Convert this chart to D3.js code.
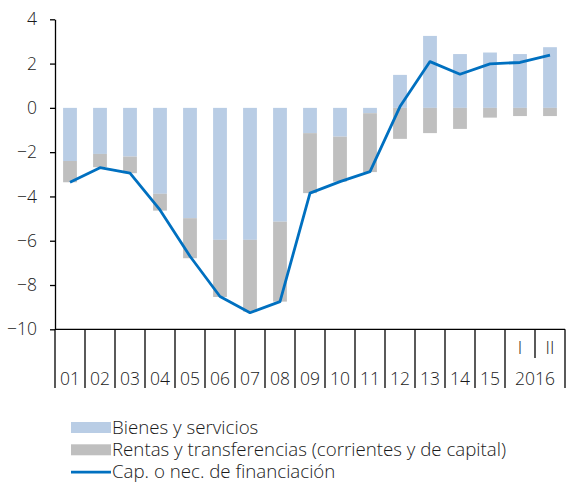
<!DOCTYPE html>
<meta charset="utf-8">
<html>
  <head>
    <script src="https://d3js.org/d3.v7.min.js"></script>
    <style>
      body{margin:0;background:#fff;}
      text{font-family:"Open Sans",Lato,sans-serif;font-weight:300;fill:#1a1a1a;}
    </style>
  </head>
  <body>
    <div id="chart"></div>
  <script>
    var width=567,
        height=483;
    // data
    var categories=["01","02","03","04","05","06","07","08","09","10","11","12","13","14","15","I","II"];
    var bienes=[-2.4,-2.08,-2.2,-3.88,-4.98,-5.96,-5.96,-5.14,-1.14,-1.3,-0.24,1.49,3.25,2.43,2.5,2.43,2.74];
    var rentas=[-0.96,-0.6,-0.75,-0.76,-1.81,-2.58,-3.24,-3.61,-2.71,-2.03,-2.66,-1.4,-1.14,-0.95,-0.44,-0.37,-0.37];
    var capacidad=[-3.36,-2.7,-2.95,-4.61,-6.7,-8.52,-9.25,-8.75,-3.85,-3.33,-2.88,0.06,2.09,1.52,1.99,2.05,2.38];
    var yTicks=[4,2,0,-2,-4,-6,-8,-10];
    var groupLabels=[{label:"2016",from:"I",to:"II"}];
    var legendItems=[
      {name:"Bienes y servicios",type:"rect",color:"#b9cde5"},
      {name:"Rentas y transferencias (corrientes y de capital)",type:"rect",color:"#bfbfbf"},
      {name:"Cap. o nec. de financiación",type:"line",color:"#0070c0"}
    ];
    var colors={bienes:"#b9cde5",rentas:"#bfbfbf",line:"#0070c0"};

    var svg=d3.select("#chart").append("svg")
        .attr("width",width)
        .attr("height",height);

    var x=d3.scaleBand().domain(categories).range([55,565]).paddingInner(0.54).paddingOuter(0.27);
    var y=d3.scaleLinear().domain([-10,4]).range([329.3,19.3]);

    // stacked bars (diverging)
    var rows=categories.map(function(c,i){return {cat:c,bienes:bienes[i],rentas:rentas[i]}});
    var series=d3.stack().keys(["bienes","rentas"]).offset(d3.stackOffsetDiverging)(rows);

    var barsG=svg.append("g");
    barsG.selectAll("g").data(series).enter().append("g")
      .attr("fill",function(d){return colors[d.key]})
      .selectAll("rect").data(function(d){return d}).enter().append("rect")
      .attr("x",function(d){return x(d.data.cat)})
      .attr("width",x.bandwidth())
      .attr("y",function(d){return y(Math.max(d[0],d[1]))})
      .attr("height",function(d){return Math.abs(y(d[0])-y(d[1]))});

    // line
    var line=d3.line()
      .x(function(d,i){return x(categories[i])+x.bandwidth()/2})
      .y(function(d){return y(d)});
    svg.append("path").datum(capacidad)
      .attr("d",line)
      .attr("fill","none")
      .attr("stroke",colors.line)
      .attr("stroke-width",2.8)
      .attr("stroke-linejoin","round");

    // y axis
    var yAxis=svg.append("g").attr("transform","translate(55,0)")
      .call(d3.axisLeft(y).tickValues(yTicks).tickSize(5).tickSizeOuter(0).tickPadding(13));
    yAxis.select(".domain").attr("stroke","#000").attr("stroke-width",1.3);
    yAxis.selectAll(".tick line").attr("stroke","#000").attr("stroke-width",1.3);
    yAxis.selectAll(".tick text").attr("font-size","17.5px").attr("font-family",null).attr("fill",null);

    // x axis (custom with group labels)
    var step=x.step();
    var x0=55, yBase=y(-10);
    var xAxis=svg.append("g");
    xAxis.append("line").attr("x1",x0).attr("x2",565).attr("y1",yBase).attr("y2",yBase)
      .attr("stroke","#000").attr("stroke-width",1.3);
    var inGroup=function(c){return groupLabels.some(function(g){return categories.indexOf(c)>categories.indexOf(g.from)&&categories.indexOf(c)<=categories.indexOf(g.to)})};
    var bounds=categories.map(function(c){return {c:c,x:x(c)-x.paddingInner()*step/2,short:inGroup(c)}});
    bounds.push({c:null,x:565,short:false});
    xAxis.selectAll("line.tk").data(bounds).enter().append("line").attr("class","tk")
      .attr("x1",function(d){return d.x}).attr("x2",function(d){return d.x})
      .attr("y1",yBase).attr("y2",function(d){return d.short?358:388})
      .attr("stroke","#000").attr("stroke-width",1.3);
    var grouped=function(c){return groupLabels.some(function(g){return categories.indexOf(c)>=categories.indexOf(g.from)&&categories.indexOf(c)<=categories.indexOf(g.to)})};
    xAxis.selectAll("text.cat").data(categories).enter().append("text").attr("class","cat")
      .attr("x",function(d){return x(d)+x.bandwidth()/2})
      .attr("y",function(d){return grouped(d)?354:385})
      .attr("text-anchor","middle")
      .attr("font-size","17.5px")
      .text(function(d){return d});
    xAxis.selectAll("text.grp").data(groupLabels).enter().append("text").attr("class","grp")
      .attr("x",function(d){return (x(d.from)+x(d.to)+x.bandwidth())/2})
      .attr("y",385)
      .attr("text-anchor","middle")
      .attr("font-size","17.5px")
      .text(function(d){return d.label});

    // legend
    var legend=svg.append("g").attr("transform","translate(71,0)");
    var item=legend.selectAll("g").data(legendItems).enter().append("g")
      .attr("transform",function(d,i){return "translate(0,"+(427.5+i*22.3)+")"});
    item.filter(function(d){return d.type=="rect"}).append("rect")
      .attr("x",0).attr("y",-5.5).attr("width",40).attr("height",11)
      .attr("fill",function(d){return d.color});
    item.filter(function(d){return d.type=="line"}).append("line")
      .attr("x1",0).attr("x2",40).attr("y1",0).attr("y2",0)
      .attr("stroke",function(d){return d.color}).attr("stroke-width",2.6);
    item.append("text").attr("x",41).attr("y",6)
      .attr("font-size","18.7px")
      .text(function(d){return d.name});
  </script>
  </body>
</html>
